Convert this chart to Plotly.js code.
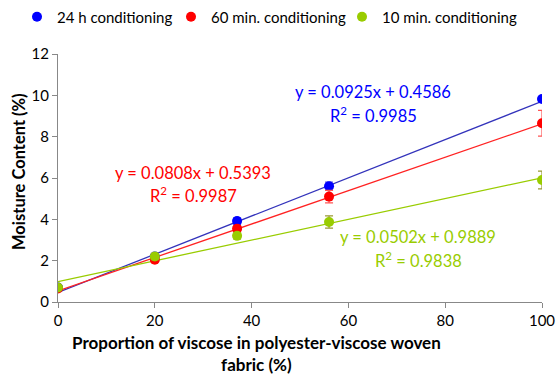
<!DOCTYPE html>
<html><head><meta charset="utf-8">
<script src="https://cdn.plot.ly/plotly-3.0.1.min.js"></script>
<style>html,body{margin:0;padding:0;background:#fff}#c{width:558px;height:375px}</style>
</head><body><div id="c"></div>
<script>
var xVals = [0, 20, 37, 56, 100];
var names = ["24 h conditioning", "60 min. conditioning", "10 min. conditioning"];
var y24h = [0.7, 2.2, 3.92, 5.6, 9.82];
var e24h = [0.1, 0.12, 0.15, 0.2, 0.1];
var y60 = [0.65, 2.05, 3.55, 5.1, 8.65];
var e60 = [0.08, 0.12, 0.15, 0.3, 0.62];
var y10 = [0.7, 2.2, 3.2, 3.87, 5.9];
var e10 = [0.08, 0.15, 0.15, 0.3, 0.43];
var slopes = [0.0925, 0.0808, 0.0502];
var intercepts = [0.4586, 0.5393, 0.9889];
var r2 = ["0.9985", "0.9987", "0.9838"];
var trendX = [0, 100];
var xTicks = [0, 20, 40, 60, 80, 100];
var yTicks = [0, 2, 4, 6, 8, 10, 12];
var xTitle = "Proportion of viscose in polyester-viscose woven<br>fabric (%)";
var yTitle = "Moisture Content (%)";

var markerColors = ["#0000FF", "#FF0000", "#99CC00"];
var lineColors = ["#3333BB", "#FF2222", "#99CC00"];
var errColors = ["#5555DD", "#FF5555", "#999933"];
var legendIds = ["legend2", "legend3", "legend4"];
var ys = [y24h, y60, y10];
var es = [e24h, e60, e10];

var traces = [];
for (var i = 0; i < 3; i++) {
  traces.push({
    x: trendX,
    y: trendX.map(function (x) { return slopes[i] * x + intercepts[i]; }),
    mode: "lines", line: {color: lineColors[i], width: 1.3},
    showlegend: false, hoverinfo: "skip"
  });
}
for (var i = 0; i < 3; i++) {
  traces.push({
    x: xVals, y: ys[i], name: names[i], mode: "markers", legend: legendIds[i],
    marker: {color: markerColors[i], size: 10},
    error_y: {type: "data", array: es[i], visible: true, color: errColors[i], thickness: 1.2, width: 4}
  });
}

var L = 58, R = 542, T = 54, B = 302, W = 558, H = 375;
function px2x(p) { return (p - L) / (R - L); }
function px2y(p) { return (B - p) / (B - T); }
var eqPos = [[373, 92, 115], [193, 173, 195], [418, 237, 260]];
var annotations = [];
for (var i = 0; i < 3; i++) {
  annotations.push({
    xref: "paper", yref: "paper", x: px2x(eqPos[i][0]), y: px2y(eqPos[i][1]),
    xanchor: "center", yanchor: "middle", showarrow: false,
    text: "y = " + slopes[i] + "x + " + intercepts[i],
    font: {size: 16.5, color: markerColors[i]}
  });
  annotations.push({
    xref: "paper", yref: "paper", x: px2x(eqPos[i][0]), y: px2y(eqPos[i][2]),
    xanchor: "center", yanchor: "middle", showarrow: false,
    text: "R<sup>2</sup> = " + r2[i],
    font: {size: 16.5, color: markerColors[i]}
  });
}
annotations.push({
  xref: "paper", yref: "paper", x: px2x(256), y: px2y(353), xanchor: "center", yanchor: "middle",
  showarrow: false, text: "<b>" + xTitle + "</b>", font: {size: 17, color: "#000"}
});
annotations.push({
  xref: "paper", yref: "paper", x: px2x(19), y: px2y(172), xanchor: "center", yanchor: "middle",
  textangle: -90, showarrow: false, text: "<b>" + yTitle + "</b>", font: {size: 16.5, color: "#000"}
});

var markerX = [35, 189, 360];
var layout = {
  width: W, height: H,
  margin: {l: L, r: W - R, t: T, b: H - B},
  paper_bgcolor: "#fff", plot_bgcolor: "#fff",
  font: {family: "Lato, Open Sans, sans-serif", size: 15, color: "#000"},
  showlegend: true,
  xaxis: {range: [0, 100], tickvals: xTicks, showgrid: false, zeroline: false,
    showline: true, linecolor: "#888", linewidth: 1, ticks: "outside", tickcolor: "#888", ticklen: 5,
    tickfont: {size: 15}},
  yaxis: {range: [0, 12], tickvals: yTicks, showgrid: false, zeroline: false,
    showline: true, linecolor: "#888", linewidth: 1, ticks: "outside", tickcolor: "#888", ticklen: 5,
    tickfont: {size: 15}},
  annotations: annotations
};
for (var i = 0; i < 3; i++) {
  layout[legendIds[i]] = {
    orientation: "h", xref: "container", yref: "container",
    x: (markerX[i] - 18) / W, xanchor: "left", y: 1 - 17 / H, yanchor: "middle",
    font: {size: 15}, itemwidth: 30, bgcolor: "rgba(0,0,0,0)"
  };
}
Plotly.newPlot("c", traces, layout, {displayModeBar: false, staticPlot: true});
</script></body></html>
